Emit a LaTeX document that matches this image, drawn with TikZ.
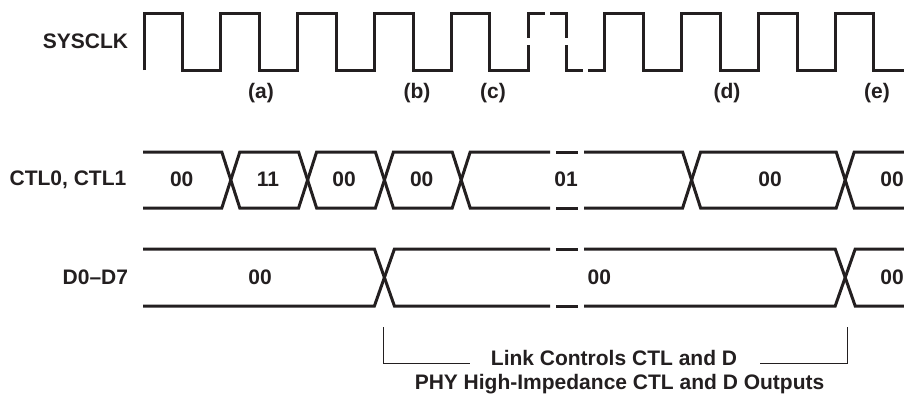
\documentclass[tikz,border=0pt]{standalone}
\usepackage{fontspec}
\setmainfont{Liberation Sans}
\definecolor{ink}{RGB}{35,31,32}
\begin{document}
\begin{tikzpicture}[x=1pt,y=-1pt,
  sig/.style={line width=3pt, draw=ink, line join=miter},
  thinline/.style={line width=1pt, draw=ink},
  lbl/.style={font=\fontsize{21}{25}\selectfont\bfseries, text=ink, inner sep=0pt},
]
\useasboundingbox (0,0) rectangle (904,394);

% ---------- SYSCLK ----------
\draw[sig] (144,70) -- (144,13) -- (182.6,13) -- (182.6,70) -- (220.8,70) -- (220.8,13)
  -- (259.4,13) -- (259.4,70) -- (297.6,70) -- (297.6,13) -- (336.2,13) -- (336.2,70)
  -- (374.4,70) -- (374.4,13) -- (413,13) -- (413,70) -- (451.2,70) -- (451.2,13)
  -- (489.8,13) -- (489.8,70) -- (528,70) -- (528,45);
\draw[sig] (528,38) -- (528,13) -- (545,13);
\draw[sig] (550,13) -- (566.6,13) -- (566.6,38);
\draw[sig] (566.6,45) -- (566.6,70) -- (583,70);
\draw[sig] (588,70) -- (604.8,70) -- (604.8,13) -- (643.4,13) -- (643.4,70) -- (681.6,70)
  -- (681.6,13) -- (720.2,13) -- (720.2,70) -- (758.4,70) -- (758.4,13) -- (797,13)
  -- (797,70) -- (835.2,70) -- (835.2,13) -- (873.8,13) -- (873.8,70) -- (904,70);

\node[lbl, anchor=base east] (sysclk) at (128.3,48.3) {SYSCLK};
\node[lbl, anchor=base] (la) at (261,98) {(a)};
\node[lbl, anchor=base] (lb) at (417,98) {(b)};
\node[lbl, anchor=base] (lc) at (493,98) {(c)};
\node[lbl, anchor=base] (ld) at (727,98) {(d)};
\node[lbl, anchor=base] (le) at (877,98) {(e)};

% ---------- CTL0, CTL1 ----------
\draw[sig] (143,152) -- (221.8,152) -- (239.8,208) -- (298.6,208) -- (316.6,152)
  -- (375.4,152) -- (393.4,208) -- (452.2,208) -- (470.2,152) -- (550,152);
\draw[sig] (556,152) -- (578,152);
\draw[sig] (584,152) -- (682.6,152) -- (700.6,208) -- (836.2,208) -- (854.2,152) -- (904,152);
\draw[sig] (143,208) -- (221.8,208) -- (239.8,152) -- (298.6,152) -- (316.6,208)
  -- (375.4,208) -- (393.4,152) -- (452.2,152) -- (470.2,208) -- (550,208);
\draw[sig] (556,208) -- (578,208);
\draw[sig] (584,208) -- (682.6,208) -- (700.6,152) -- (836.2,152) -- (854.2,208) -- (904,208);

\node[lbl, anchor=base east] (ctl) at (126.5,185.5) {CTL0, CTL1};
\node[lbl, anchor=base] (c1) at (181.7,186.5) {00};
\node[lbl, anchor=base] (c2) at (268,186.5) {11};
\node[lbl, anchor=base] (c3) at (344,186.5) {00};
\node[lbl, anchor=base] (c4) at (421.7,186.5) {00};
\node[lbl, anchor=base] (c5) at (566,186.5) {01};
\node[lbl, anchor=base] (c6) at (770,186.5) {00};
\node[lbl, anchor=base] (c7) at (892,186.5) {00};

% ---------- D0-D7 ----------
\draw[sig] (143,249) -- (374.4,249) -- (394.4,306) -- (550,306);
\draw[sig] (556,306) -- (578,306);
\draw[sig] (584,306) -- (835.2,306) -- (855.2,249) -- (904,249);
\draw[sig] (143,306) -- (374.4,306) -- (394.4,249) -- (550,249);
\draw[sig] (556,249) -- (578,249);
\draw[sig] (584,249) -- (835.2,249) -- (855.2,306) -- (904,306);

\node[lbl, anchor=base east] (dlab) at (128.3,284.3) {D0–D7};
\node[lbl, anchor=base] (d1) at (260,284) {00};
\node[lbl, anchor=base] (d2) at (599.3,284) {00};
\node[lbl, anchor=base] (d3) at (892,284) {00};

% ---------- bracket ----------
\coordinate (bl1) at (383,327);
\coordinate (bl2) at (383,363);
\coordinate (bl3) at (470,363);
\coordinate (br1) at (760,363);
\coordinate (br2) at (847,363);
\coordinate (br3) at (847,327);
\draw[thinline] (bl1) -- (bl2) -- (bl3);
\draw[thinline] (br1) -- (br2) -- (br3);

\node[lbl, anchor=base] (link) at (614,365) {Link Controls CTL and D};
\node[lbl, anchor=base] (phy) at (619.5,389.5) {PHY High-Impedance CTL and D Outputs};
\end{tikzpicture}
\end{document}
